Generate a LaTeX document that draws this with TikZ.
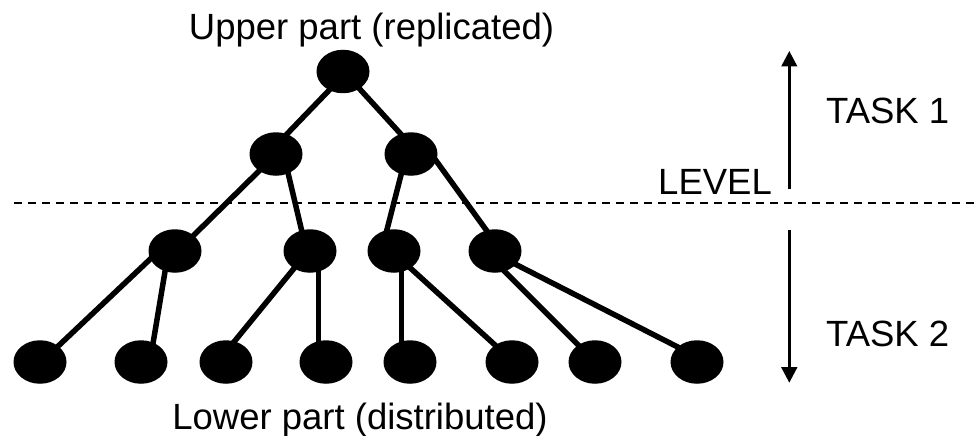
\documentclass[tikz,border=0pt]{standalone}
\usepackage{fontspec}
\setmainfont{Liberation Sans}
\usetikzlibrary{arrows.meta,shapes.geometric}
\begin{document}
\begin{tikzpicture}[x=1pt,y=-1pt,
  vertex/.style={ellipse, fill=black, draw=none, minimum width=53pt,
                 minimum height=43.5pt, inner sep=0pt},
  edge/.style={line width=5.5pt, shorten <=-7pt, shorten >=-7pt},
  txt/.style={font=\fontsize{36.5}{40}\selectfont, inner sep=0pt},
  sidearrow/.style={line width=2.4pt, -{Triangle[length=15.5pt,width=15.7pt]}},
  levelline/.style={line width=2pt, dash pattern=on 7.5pt off 6.5pt}]

% canvas
\fill[white] (0,0) rectangle (975,436);
\useasboundingbox (0,0) rectangle (975,436);

% tree nodes
\node[vertex] (root) at (343,71.5) {};
\node[vertex] (la) at (276,154) {};
\node[vertex] (lb) at (411,154) {};
\node[vertex] (ma) at (175,251) {};
\node[vertex] (mb) at (310,251) {};
\node[vertex] (mc) at (394,251) {};
\node[vertex] (md) at (495,251) {};
\foreach \i/\x in {1/40,2/141,3/226,4/326,5/410,6/512,7/595,8/697}
  \node[vertex] (leaf\i) at (\x,362) {};

% tree edges
\draw[edge] ([shift={(-13,17.8)}]root.center) -- ([shift={(10.7,-19.7)}]la.center);
\draw[edge] ([shift={(17,17.8)}]root.center) -- ([shift={(-9.3,-19)}]lb.center);
\draw[edge] ([shift={(-17.7,17.7)}]la.center) -- ([shift={(20,-17)}]ma.center);
\draw[edge] ([shift={(12.3,20)}]la.center) -- ([shift={(-8.3,-20.3)}]mb.center);
\draw[edge] ([shift={(-10,21)}]lb.center) -- ([shift={(-7.3,-20.3)}]mc.center);
\draw[edge] ([shift={(26,8)}]lb.center) -- ([shift={(-8.3,-20.3)}]md.center);
\draw[edge] ([shift={(-25,8.3)}]ma.center) -- ([shift={(18.3,-16)}]leaf1.center);
\draw[edge] ([shift={(-10,20.7)}]ma.center) -- ([shift={(12.3,-20.3)}]leaf2.center);
\draw[edge] ([shift={(-16.7,18.3)}]mb.center) -- ([shift={(9,-21.3)}]leaf3.center);
\draw[edge] ([shift={(8.3,21.7)}]mb.center) -- ([shift={(-7.7,-20.3)}]leaf4.center);
\draw[edge] ([shift={(7.7,21.7)}]mc.center) -- ([shift={(-8.3,-21.3)}]leaf5.center);
\draw[edge] ([shift={(17.7,18.3)}]mc.center) -- ([shift={(-17,-17)}]leaf6.center);
\draw[edge] ([shift={(10,20.7)}]md.center) -- ([shift={(-16.7,-17)}]leaf7.center);
\draw[edge] ([shift={(20,13)}]md.center) -- ([shift={(-18.7,-14.7)}]leaf8.center);

% level separator
\coordinate (sepl) at (14.3,203.3);
\coordinate (sepr) at (975,203.3);
\draw[levelline] (sepl) -- (sepr);

% task range arrows
\coordinate (up0) at (789.3,189.3);
\coordinate (up1) at (789.3,51);
\coordinate (dn0) at (789.3,230);
\coordinate (dn1) at (789.3,382.7);
\draw[sidearrow] (up0) -- (up1);
\draw[sidearrow] (dn0) -- (dn1);

% labels
\node[txt, anchor=base] (upper) at (371.5,39.3) {Upper part (replicated)};
\node[txt, anchor=base] (lower) at (360,429.3) {Lower part (distributed)};
\node[txt, anchor=base west] (task1) at (826,124) {TASK 1};
\node[txt, anchor=base west] (task2) at (826,346) {TASK 2};
\node[txt, anchor=base west] (level) at (658,194) {LEVEL};
\end{tikzpicture}
\end{document}
